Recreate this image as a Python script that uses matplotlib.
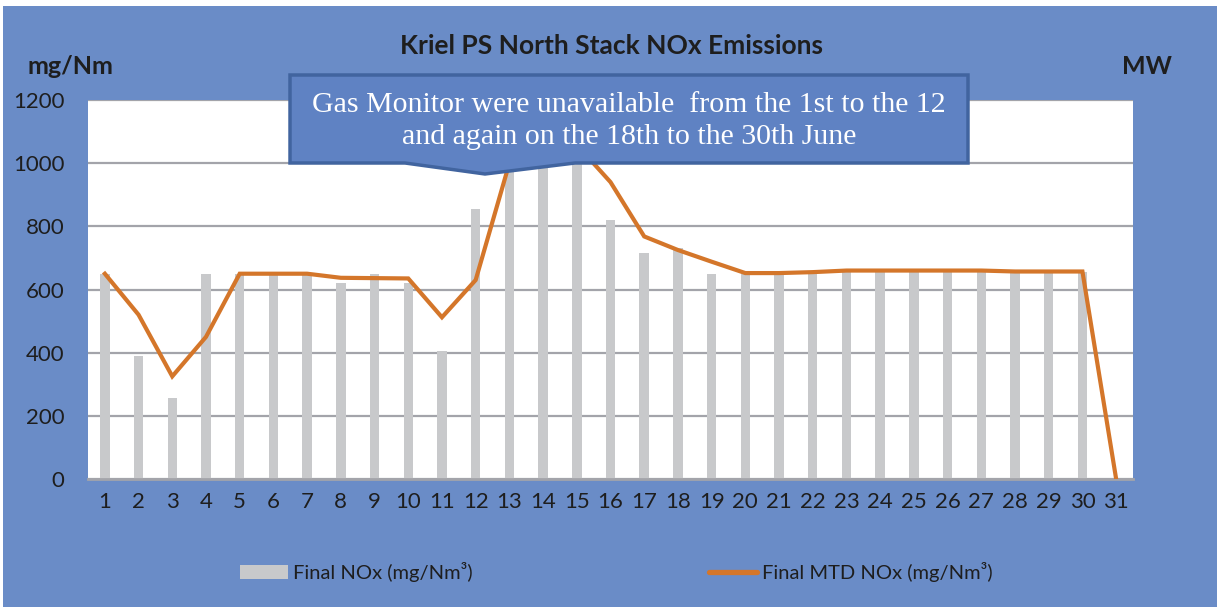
import matplotlib
matplotlib.use('Agg')
import matplotlib.pyplot as plt
from matplotlib.patches import Polygon, Rectangle, Patch
from matplotlib.lines import Line2D
import numpy as np

# data
days = list(range(1, 32))
final_nox = [650, 390, 255, 650, 650, 650, 650, 620, 650, 620,
             405, 855, 1145, 1056, 1060, 820, 715, 730, 648, 650,
             650, 658, 660, 660, 660, 660, 660, 655, 658, 655, 0]
mtd_nox = [650, 520, 325, 450, 650, 650, 650, 637, 636, 635,
           512, 630, 1000, 1100, 1058, 940, 768, 725, 688, 652,
           652, 655, 660, 660, 660, 660, 660, 657, 657, 657, 0]

W, H = 1217, 607
BLUE = '#6A8CC7'
GRID = '#A3A4AA'
TXT = '#1E1E1E'
plt.rcParams['font.family'] = ['Lato', 'DejaVu Sans']

fig = plt.figure(figsize=(W / 100, H / 100), dpi=100)
fig.patch.set_facecolor(BLUE)

def fx(px):
    return px / W

def fy(py):
    return 1 - py / H

# thin white frame along the top and left edges
fig.patches.append(Rectangle((0, fy(6)), 1, 6 / H, transform=fig.transFigure,
                             facecolor='white', edgecolor='none'))
fig.patches.append(Rectangle((0, 0), 3 / W, 1, transform=fig.transFigure,
                             facecolor='white', edgecolor='none'))

ax = fig.add_axes([fx(88), fy(479), fx(1133 - 88), (479 - 100) / H])
ax.set_facecolor('white')

ax.bar(days, final_nox, width=0.28, color='#C8C9CB', zorder=2)
ax.plot(days, mtd_nox, color='#D4762A', lw=3.0, zorder=3, solid_joinstyle='miter')

ax.set_xlim(0.5, 31.5)
ax.set_ylim(0, 1200)
ax.set_yticks(range(0, 1201, 200))
ax.set_xticks(days)
ax.yaxis.grid(True, color=GRID, lw=1.6, zorder=1)
ax.set_axisbelow(True)
for s in ['left', 'right', 'top']:
    ax.spines[s].set_visible(False)
ax.spines['bottom'].set_color(GRID)
ax.spines['bottom'].set_linewidth(2)
ax.tick_params(axis='both', length=0, labelsize=16, colors=TXT)
ax.tick_params(axis='y', pad=17)
ax.tick_params(axis='x', pad=9)

fig.text(fx(611), fy(46), 'Kriel PS North Stack NOx Emissions', ha='center', va='center',
         fontsize=19, fontweight='bold', color=TXT)
fig.text(fx(70), fy(67), 'mg/Nm', ha='center', va='center',
         fontsize=18, fontweight='bold', color=TXT)
fig.text(fx(1147), fy(67), 'MW', ha='center', va='center',
         fontsize=18, fontweight='bold', color=TXT)

# callout box
pts = [(290, 75), (968, 75), (968, 163), (575, 163), (485, 174), (405, 163), (290, 163)]
fig.patches.append(Polygon([(fx(x), fy(y)) for x, y in pts], closed=True,
                           transform=fig.transFigure, facecolor='#5F82C3',
                           edgecolor='#41649F', lw=2.5, zorder=5))
fig.text(fx(629), fy(121), 'Gas Monitor were unavailable  from the 1st to the 12\n'
         'and again on the 18th to the 30th June', ha='center', va='center',
         fontsize=21.5, color='white', family='Liberation Serif', linespacing=1.33, zorder=6)

handles = [Patch(facecolor='#C8C9CB', edgecolor='none'),
           Line2D([0], [0], color='#D4762A', lw=3.8, solid_capstyle='round')]
leg = fig.legend(handles, ['Final NOx (mg/Nm³)', 'Final MTD NOx (mg/Nm³)'],
                 loc='center left', bbox_to_anchor=(fx(240), fy(572)), ncol=2,
                 frameon=False, fontsize=14.5, handlelength=2.4, handleheight=0.65,
                 handletextpad=0.25, columnspacing=11.7, borderaxespad=0, borderpad=0)
for t in leg.get_texts():
    t.set_color(TXT)

fig.savefig('out.png', dpi=100, facecolor=fig.get_facecolor())
